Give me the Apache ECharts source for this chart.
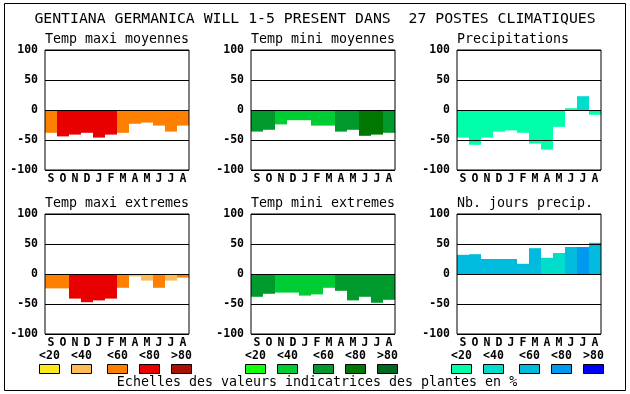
<!DOCTYPE html>
<html>
<head>
<meta charset="utf-8">
<script src="https://cdn.jsdelivr.net/npm/echarts@6/dist/echarts.min.js"></script>
<style>
html,body{margin:0;padding:0;background:#fff;}
#c{width:630px;height:394px;}
</style>
</head>
<body>
<div id="c"></div>
<script>
// ---- data ----
var months = ['S','O','N','D','J','F','M','A','M','J','J','A'];
var yTicks = [-100, -50, 0, 50, 100];
var mainTitle = 'GENTIANA GERMANICA WILL 1-5 PRESENT DANS  27 POSTES CLIMATIQUES';
var footer = 'Echelles des valeurs indicatrices des plantes en %';
var classLabels = ['<20','<40','<60','<80','>80'];

var warmColors  = ['#ffe81a','#ffbb55','#ff8000','#e80000','#aa1100'];
var greenColors = ['#11ff11','#00cc33','#009a2c','#007700','#006622'];
var blueColors  = ['#00ffaa','#00ddcc','#00bbdd','#0099ee','#0000ff'];

var panelTitles = ['Temp maxi moyennes','Temp mini moyennes','Precipitations',
                   'Temp maxi extremes','Temp mini extremes','Nb. jours precip.'];

var tmaxMoy      = [-38,-44,-41,-38,-46,-41,-38,-23,-21,-26,-36,-26];
var tmaxMoyClass = [2,3,3,3,3,3,2,2,2,2,2,2];
var tminMoy      = [-36,-33,-24,-17,-17,-26,-26,-36,-33,-43,-41,-38];
var tminMoyClass = [2,2,1,1,1,1,1,2,2,3,3,2];
var precip       = [-46,-58,-46,-36,-34,-38,-56,-66,-28,3,23,-8];
var precipClass  = [0,0,0,0,0,0,0,0,0,0,1,0];
var tmaxExt      = [-24,-24,-41,-47,-44,-41,-23,-4,-11,-23,-11,-6];
var tmaxExtClass = [2,2,3,3,3,3,2,1,1,2,1,2];
var tminExt      = [-38,-33,-31,-31,-36,-34,-23,-28,-44,-38,-48,-43];
var tminExtClass = [2,2,1,1,1,1,1,2,2,2,2,2];
var nbJours      = [32,33,25,25,25,17,43,27,35,45,45,52];
var nbJoursClass = [2,2,2,2,2,2,2,1,1,2,3,2];

// ---- layout ----
var colLeft = [45, 251, 457];
var rowTop = [50, 214];
var plotW = 144, plotH = 120;
var monoFont = '"DejaVu Sans Mono", "Liberation Mono", monospace';

var panels = [
  {vals: tmaxMoy, cls: tmaxMoyClass, pal: warmColors},
  {vals: tminMoy, cls: tminMoyClass, pal: greenColors},
  {vals: precip,  cls: precipClass,  pal: blueColors},
  {vals: tmaxExt, cls: tmaxExtClass, pal: warmColors},
  {vals: tminExt, cls: tminExtClass, pal: greenColors},
  {vals: nbJours, cls: nbJoursClass, pal: blueColors}
];

var grids = [], xAxes = [], yAxes = [], series = [], graphics = [];

panels.forEach(function (p, i) {
  var col = i % 3, row = Math.floor(i / 3);
  grids.push({
    left: colLeft[col], top: rowTop[row], width: plotW, height: plotH,
    show: true, borderColor: '#000', borderWidth: 1, backgroundColor: 'transparent', z: 10
  });
  xAxes.push({
    type: 'category', gridIndex: i, data: months, boundaryGap: true,
    axisLine: {show: false}, axisTick: {show: false}, splitLine: {show: false},
    axisLabel: {color: '#000', fontFamily: monoFont, fontWeight: 'bold', fontSize: 11.5, margin: 3, interval: 0}
  });
  yAxes.push({
    type: 'value', gridIndex: i, min: yTicks[0], max: yTicks[yTicks.length - 1], interval: 50, z: 10,
    axisLine: {show: false}, axisTick: {show: false},
    splitLine: {show: true, lineStyle: {color: '#000', width: 1}},
    axisLabel: {color: '#000', fontFamily: monoFont, fontWeight: 'bold', fontSize: 11.5, margin: 7}
  });
  series.push({
    type: 'bar', xAxisIndex: i, yAxisIndex: i, barCategoryGap: '0%', barGap: '0%', z: 2,
    animation: false,
    data: p.vals.map(function (v, k) {
      return {value: v, itemStyle: {color: p.pal[p.cls[k]]}};
    })
  });
  graphics.push({
    type: 'text', x: colLeft[col], y: rowTop[row] - 10,
    style: {text: panelTitles[i], font: '13.3px ' + monoFont, fill: '#000', align: 'left', verticalAlign: 'middle'}
  });
});

// legend (colour scales)
var legendOffsets = [0, 32, 68, 100, 132];
var palettes = [warmColors, greenColors, blueColors];
palettes.forEach(function (pal, c) {
  pal.forEach(function (color, k) {
    var bx = colLeft[c] - 6 + legendOffsets[k];
    graphics.push({
      type: 'rect', shape: {x: bx + 0.5, y: 364.5, width: 20, height: 9},
      style: {fill: color, stroke: '#000', lineWidth: 1}
    });
    graphics.push({
      type: 'text', x: bx + 10.5, y: 356,
      style: {text: classLabels[k], font: 'bold 11.5px ' + monoFont, fill: '#000', align: 'center', verticalAlign: 'middle'}
    });
  });
});

graphics.push({
  type: 'text', x: 315, y: 19,
  style: {text: mainTitle, font: '14.8px ' + monoFont, fill: '#000', align: 'center', verticalAlign: 'middle'}
});
graphics.push({
  type: 'text', x: 317, y: 383,
  style: {text: footer, font: '13.3px ' + monoFont, fill: '#000', align: 'center', verticalAlign: 'middle'}
});
graphics.push({
  type: 'rect', shape: {x: 4.5, y: 3.5, width: 621, height: 387},
  style: {fill: 'none', stroke: '#000', lineWidth: 1}
});

var chart = echarts.init(document.getElementById('c'), null, {renderer: 'canvas'});
chart.setOption({
  backgroundColor: '#fff',
  animation: false,
  grid: grids,
  xAxis: xAxes,
  yAxis: yAxes,
  series: series,
  graphic: graphics
});
</script>
</body>
</html>
